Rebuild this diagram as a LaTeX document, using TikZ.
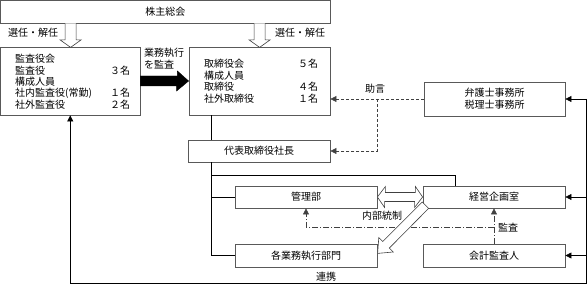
\documentclass[tikz,border=0pt]{standalone}
\usepackage{fontspec}
\setmainfont{Noto Sans CJK JP}
\usetikzlibrary{arrows.meta,calc}
\begin{document}
\begin{tikzpicture}[x=1pt,y=-1pt,
  box/.style={draw=black!65, line width=0.8pt, fill=white, inner sep=0pt, font=\fontsize{10}{12}\selectfont},
  lbl/.style={inner sep=0pt, anchor=west, font=\fontsize{10}{12}\selectfont},
  con/.style={draw=black, line width=0.6pt},
  arr/.style={-{Triangle[length=6pt,width=6pt]}},
  dsh/.style={con, draw=black!75, dash pattern=on 3pt off 2pt},
  dshdot/.style={con, draw=black!75, dash pattern=on 6pt off 2pt on 1pt off 2pt},
  blk/.style={draw=black!75, line width=0.6pt, fill=white}]
\useasboundingbox (0,0) rectangle (587,286);

% boxes
\node[box, minimum width=329.5pt, minimum height=22.5pt] (soukai) at (165.25,11.75) {株主総会};
\node[box, minimum width=139.5pt, minimum height=68pt] (kansayaku) at (70.25,81) {};
\node[box, minimum width=141pt, minimum height=68pt] (torishimari) at (259.5,81) {};
\node[box, minimum width=141pt, minimum height=34pt, align=center] (bengoshi) at (494.5,99) {弁護士事務所\\税理士事務所};
\node[box, minimum width=142pt, minimum height=22pt] (daihyo) at (259,151) {代表取締役社長};
\node[box, minimum width=142pt, minimum height=22pt] (kanri) at (306,197) {管理部};
\node[box, minimum width=142pt, minimum height=22pt] (keiei) at (494,197) {経営企画室};
\node[box, minimum width=142pt, minimum height=23pt] (kakugyomu) at (306,255.5) {各業務執行部門};
\node[box, minimum width=142pt, minimum height=23pt] (kaikei) at (494,255.5) {会計監査人};

% texts in kansayaku box
\node[lbl] (k1) at (15,59) {監査役会};
\node[lbl] (k2) at (15,70.5) {監査役};
\node[lbl] (k3) at (15,81.5) {構成人員};
\node[lbl] (k4) at (15,93) {社内監査役(常勤)};
\node[lbl] (k5) at (15,104.5) {社外監査役};
\node[lbl] (kn1) at (110,70.5) {３名};
\node[lbl] (kn2) at (110,93) {１名};
\node[lbl] (kn3) at (110,104.5) {２名};

% texts in torishimari box
\node[lbl] (t1) at (204,63.5) {取締役会};
\node[lbl] (t2) at (204,75.5) {構成人員};
\node[lbl] (t3) at (204,87) {取締役};
\node[lbl] (t4) at (204,98.5) {社外取締役};
\node[lbl] (tn1) at (298,63.5) {５名};
\node[lbl] (tn2) at (298,87) {４名};
\node[lbl] (tn3) at (298,98.5) {１名};

% labels
\node[lbl] (sen1) at (8,32.5) {選任・解任};
\node[lbl] (sen2) at (275,32.5) {選任・解任};
\node[lbl, align=left, font=\fontsize{10}{12}\selectfont] (gyomu) at (144,59) {業務執行\\を監査};
\node[lbl] (jogen) at (365,89) {助言};
\node[lbl] (naibu) at (362,216) {内部統制};
\node[lbl] (kansa) at (498,227.5) {監査};
\node[lbl] (renkei) at (316,277) {連携};

% open block arrows from soukai
\draw[blk] ([xshift=65pt]soukai.south west) -- ++(0,16.5) -- ++(-5,0) -- ++(10.5,7.5) -- ++(10.5,-7.5) -- ++(-5,0) -- ++(0,-16.5);
\draw[blk] ([xshift=254pt]soukai.south west) -- ++(0,16.5) -- ++(-5,0) -- ++(10.5,7.5) -- ++(10.5,-7.5) -- ++(-5,0) -- ++(0,-16.5);

% black arrow
\draw[fill=black] ($(kansayaku.east)+(0,-5)$) -- ++(37,0) -- ++(0,-5) -- (torishimari.west) -- ++(-12,10) -- ++(0,-5) -- ($(kansayaku.east)+(0,5)$) -- cycle;

% tree
\draw[con] ([xshift=23pt]torishimari.south west) -- ([xshift=24pt]daihyo.north west);
\coordinate (trunk) at ([xshift=24pt]daihyo.south west);
\draw[con] (trunk) -- (trunk |- kakugyomu.west) -- (kakugyomu.west);
\draw[con] (trunk |- kanri.west) -- (kanri.west);
\draw[con] (trunk |- 0,175) -| ([xshift=33pt]keiei.north west);

% right side links
\coordinate (rr) at (586,283);
\draw[con, arr] (bengoshi.east -| rr) -- (bengoshi.east);
\draw[con, arr] (keiei.east -| rr) -- (keiei.east);
\draw[con, arr] (kaikei.east -| rr) -- (kaikei.east);
\draw[con, arr] (bengoshi.east -| rr) -- (rr) -- (kansayaku.south |- rr) -- (kansayaku.south);

% advice (dashed)
\draw[dsh, arr] (bengoshi.west) -- (bengoshi.west -| torishimari.east);
\draw[dsh, arr] (bengoshi.west -| kanri.east) -- (daihyo.east -| kanri.east) -- (daihyo.east);

% audit (dash-dot)
\draw[dshdot, arr] (kaikei.north) -- (keiei.south);
\draw[dshdot, arr] (kaikei.north |- 0,227) -- (kanri.south |- 0,227) -- (kanri.south);

% internal control arrows
\draw[blk] (kanri.east) -- ++(8,-10.5) -- ++(0,6) -- ++(30,0) -- ++(0,-6) -- (keiei.west) -- ++(-8,10.5) -- ++(0,-6) -- ++(-30,0) -- ++(0,6) -- cycle;
\draw[blk] ($(keiei.south west)+(6,0)$) -- ++(-6.4,-6.4) -- ++(-39.5,39.5) -- ++(-3.9,-3.9) -- ++(-1.2,15.8) -- ++(15.6,-1.4) -- ++(-3.9,-3.9) -- cycle;
\end{tikzpicture}
\end{document}
